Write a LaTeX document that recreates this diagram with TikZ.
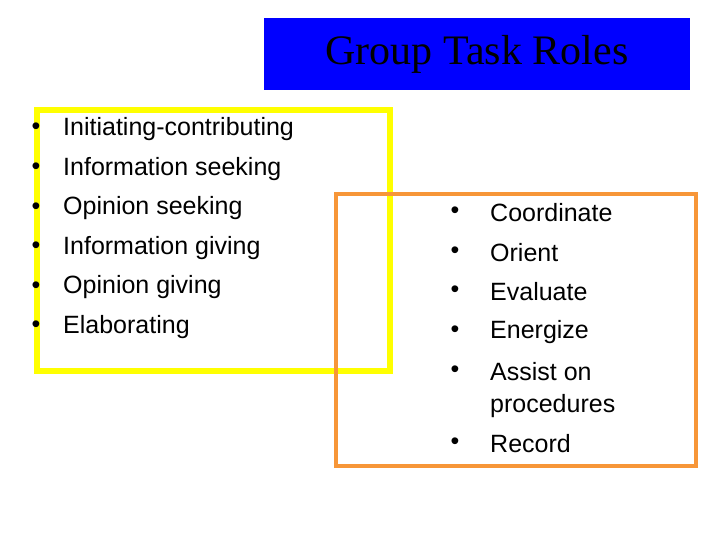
\documentclass[tikz,border=0pt]{standalone}
\usepackage{fontspec}
\setmainfont{Liberation Sans}
\newfontfamily\titlefont{Liberation Serif}
\begin{document}
\begin{tikzpicture}[x=1pt,y=-1pt,
  item/.style={anchor=west,inner sep=0pt,font=\fontsize{25}{29}\selectfont},
  bul/.style={anchor=center,inner sep=0pt,font=\fontsize{25}{29}\selectfont}]
\useasboundingbox (0,0) rectangle (720,540);
\fill[white] (0,0) rectangle (720,540);
\node[fill={rgb,255:red,0;green,0;blue,255},minimum width=426pt,minimum height=72pt,inner sep=0pt] (title) at (477,54)
  {\titlefont\fontsize{42}{46}\selectfont Group Task Roles};
\draw[line width=6pt,draw={rgb,255:red,255;green,255;blue,0}] (37,110) rectangle (390,371);
\draw[line width=4pt,draw={rgb,255:red,247;green,150;blue,56}] (336,194) rectangle (696,466);
\foreach \t [count=\i] in {Initiating-contributing,Information seeking,Opinion seeking,Information giving,Opinion giving,Elaborating}{
  \node[bul] (lb\i) at (36,{129+39.6*(\i-1)}) {•};
  \node[item] (lt\i) at (63,{129+39.6*(\i-1)}) {\t};
}
\foreach \t/\y [count=\i] in {Coordinate/213,Orient/253,Evaluate/292,Energize/332,Assist on/372,Record/444}{
  \node[bul] (rb\i) at (455,\y) {•};
  \node[item] (rt\i) at (490,\y) {\t};
}
\node[item] (rt7) at (490,406) {procedures};
\end{tikzpicture}
\end{document}
